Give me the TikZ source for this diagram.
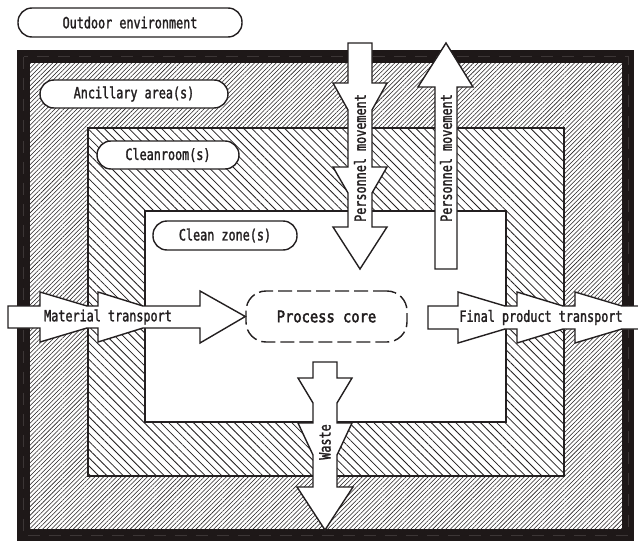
\documentclass[tikz,border=0pt]{standalone}
\usepackage{fontspec}
\setmainfont{DejaVu Sans}
\newfontfamily\labelfont[FakeStretch=0.76,FakeBold=1.6]{DejaVu Sans Mono}
\newfontfamily\corefont[FakeStretch=0.86,FakeBold=2.6]{DejaVu Sans Mono}
\usetikzlibrary{patterns.meta}
\definecolor{ink}{HTML}{231F20}
\definecolor{wallcol}{HTML}{1E1818}
\definecolor{wallseam}{HTML}{3C3636}

\begin{document}
\begin{tikzpicture}[x=1pt,y=-1pt,
  txt/.style={font={\labelfont\fontsize{15.5}{17}\selectfont}, text=ink, inner sep=0pt},
  zonelabel/.style={txt, draw=ink, line width=1.4pt, fill=white,
    rounded corners=14pt, minimum height=28pt},
  flow/.style={draw=ink, line width=1.4pt, fill=white, line join=miter},
  finehatch/.style={pattern={Lines[angle=45,distance=3.1pt,line width=0.55pt]}, pattern color=ink},
  widehatch/.style={pattern={Lines[angle=-45,distance=5.8pt,line width=0.8pt]}, pattern color=ink},
  zoneedge/.style={draw=ink, line width=1.4pt}
]
\useasboundingbox (0,0) rectangle (638,541);

% building envelope (thick wall) with a faint seam line
\fill[wallcol] (17,50) rectangle (634,545);
\draw[wallseam, line width=0.8pt, dash pattern=on 12pt off 9pt] (23.5,56.5) rectangle (628,535.5);

% ancillary area
\fill[white] (30,63) rectangle (622,529);
\fill[finehatch] (30,63) rectangle (622,529);

% cleanroom
\fill[white] (88,128) rectangle (564,476);
\fill[widehatch] (88,128) rectangle (564,476);
\draw[zoneedge] (88,128) rectangle (564,476);

% clean zone
\filldraw[zoneedge, fill=white] (145,211) rectangle (506,422);

% zone labels
\node[zonelabel, minimum width=224pt, minimum height=29pt] (outdoor) at (130,22.5) {Outdoor environment};
\node[zonelabel, minimum width=188pt] (ancillary) at (134,94) {Ancillary area(s)};
\node[zonelabel, minimum width=142pt] (cleanroom) at (168,155) {Cleanroom(s)};
\node[zonelabel, minimum width=144pt, minimum height=29pt] (cleanzone) at (225,235.5) {Clean zone(s)};

% process core
\node[draw=ink, line width=1.4pt, fill=white, dash pattern=on 14pt off 5pt,
  rounded corners=20pt, minimum width=161pt, minimum height=51pt, inner sep=0pt,
  font={\corefont\fontsize{16}{18}\selectfont}, text=ink]
  (core) at (326.5,316.5) {Process core};

% material transport into the core
\draw[flow] (8,306) -- (40,306) -- (40,292) -- (87,306) -- (98,306) -- (98,292)
  -- (143,306) -- (200,306) -- (200,291) -- (core.west) -- (200,343) -- (200,328)
  -- (143,328) -- (98,342) -- (98,328) -- (87,328) -- (40,342) -- (40,328)
  -- (8,328) -- cycle;
\node[txt] (mtlabel) at (108,317) {Material transport};

% final product transport out of the building
\draw[flow] (645,306) -- (622,306) -- (575,292) -- (575,306) -- (563,306)
  -- (517,292) -- (517,306) -- (505,306) -- (458,292) -- (458,306) -- (428,306)
  -- (428,329) -- (458,329) -- (458,343) -- (505,329) -- (517,329) -- (517,343)
  -- (563,329) -- (575,329) -- (575,343) -- (622,329) -- (645,329);
\node[txt] (fplabel) at (541,317.5) {Final product transport};

% personnel moving in
\draw[flow] (348,43) -- (372,43) -- (372,83) -- (387,83) -- (372,110) -- (372,167)
  -- (387,167) -- (372,193) -- (372,227) -- (387,227) -- (360,269) -- (333,227)
  -- (348,227) -- (348,193) -- (333,167) -- (348,167) -- (348,110) -- (333,83)
  -- (348,83) -- cycle;
\node[txt, rotate=90] (pmin) at (360,158) {Personnel movement};

% personnel moving out
\draw[flow] (435,269) -- (435,87) -- (418,87) -- (446,43) -- (473,87) -- (457,87)
  -- (457,269) -- cycle;
\node[txt, rotate=90] (pmout) at (446,158) {Personnel movement};

% waste leaving the core
\draw[flow] (313,362) -- (337,362) -- (337,378) -- (352,378) -- (337,403) -- (337,423)
  -- (352,423) -- (337,455) -- (337,487) -- (353,487) -- (325,530) -- (297,487)
  -- (313,487) -- (313,455) -- (298,423) -- (313,423) -- (313,403) -- (298,378)
  -- (313,378) -- cycle;
\node[txt, rotate=90] (waste) at (325,442) {Waste};
\end{tikzpicture}
\end{document}
